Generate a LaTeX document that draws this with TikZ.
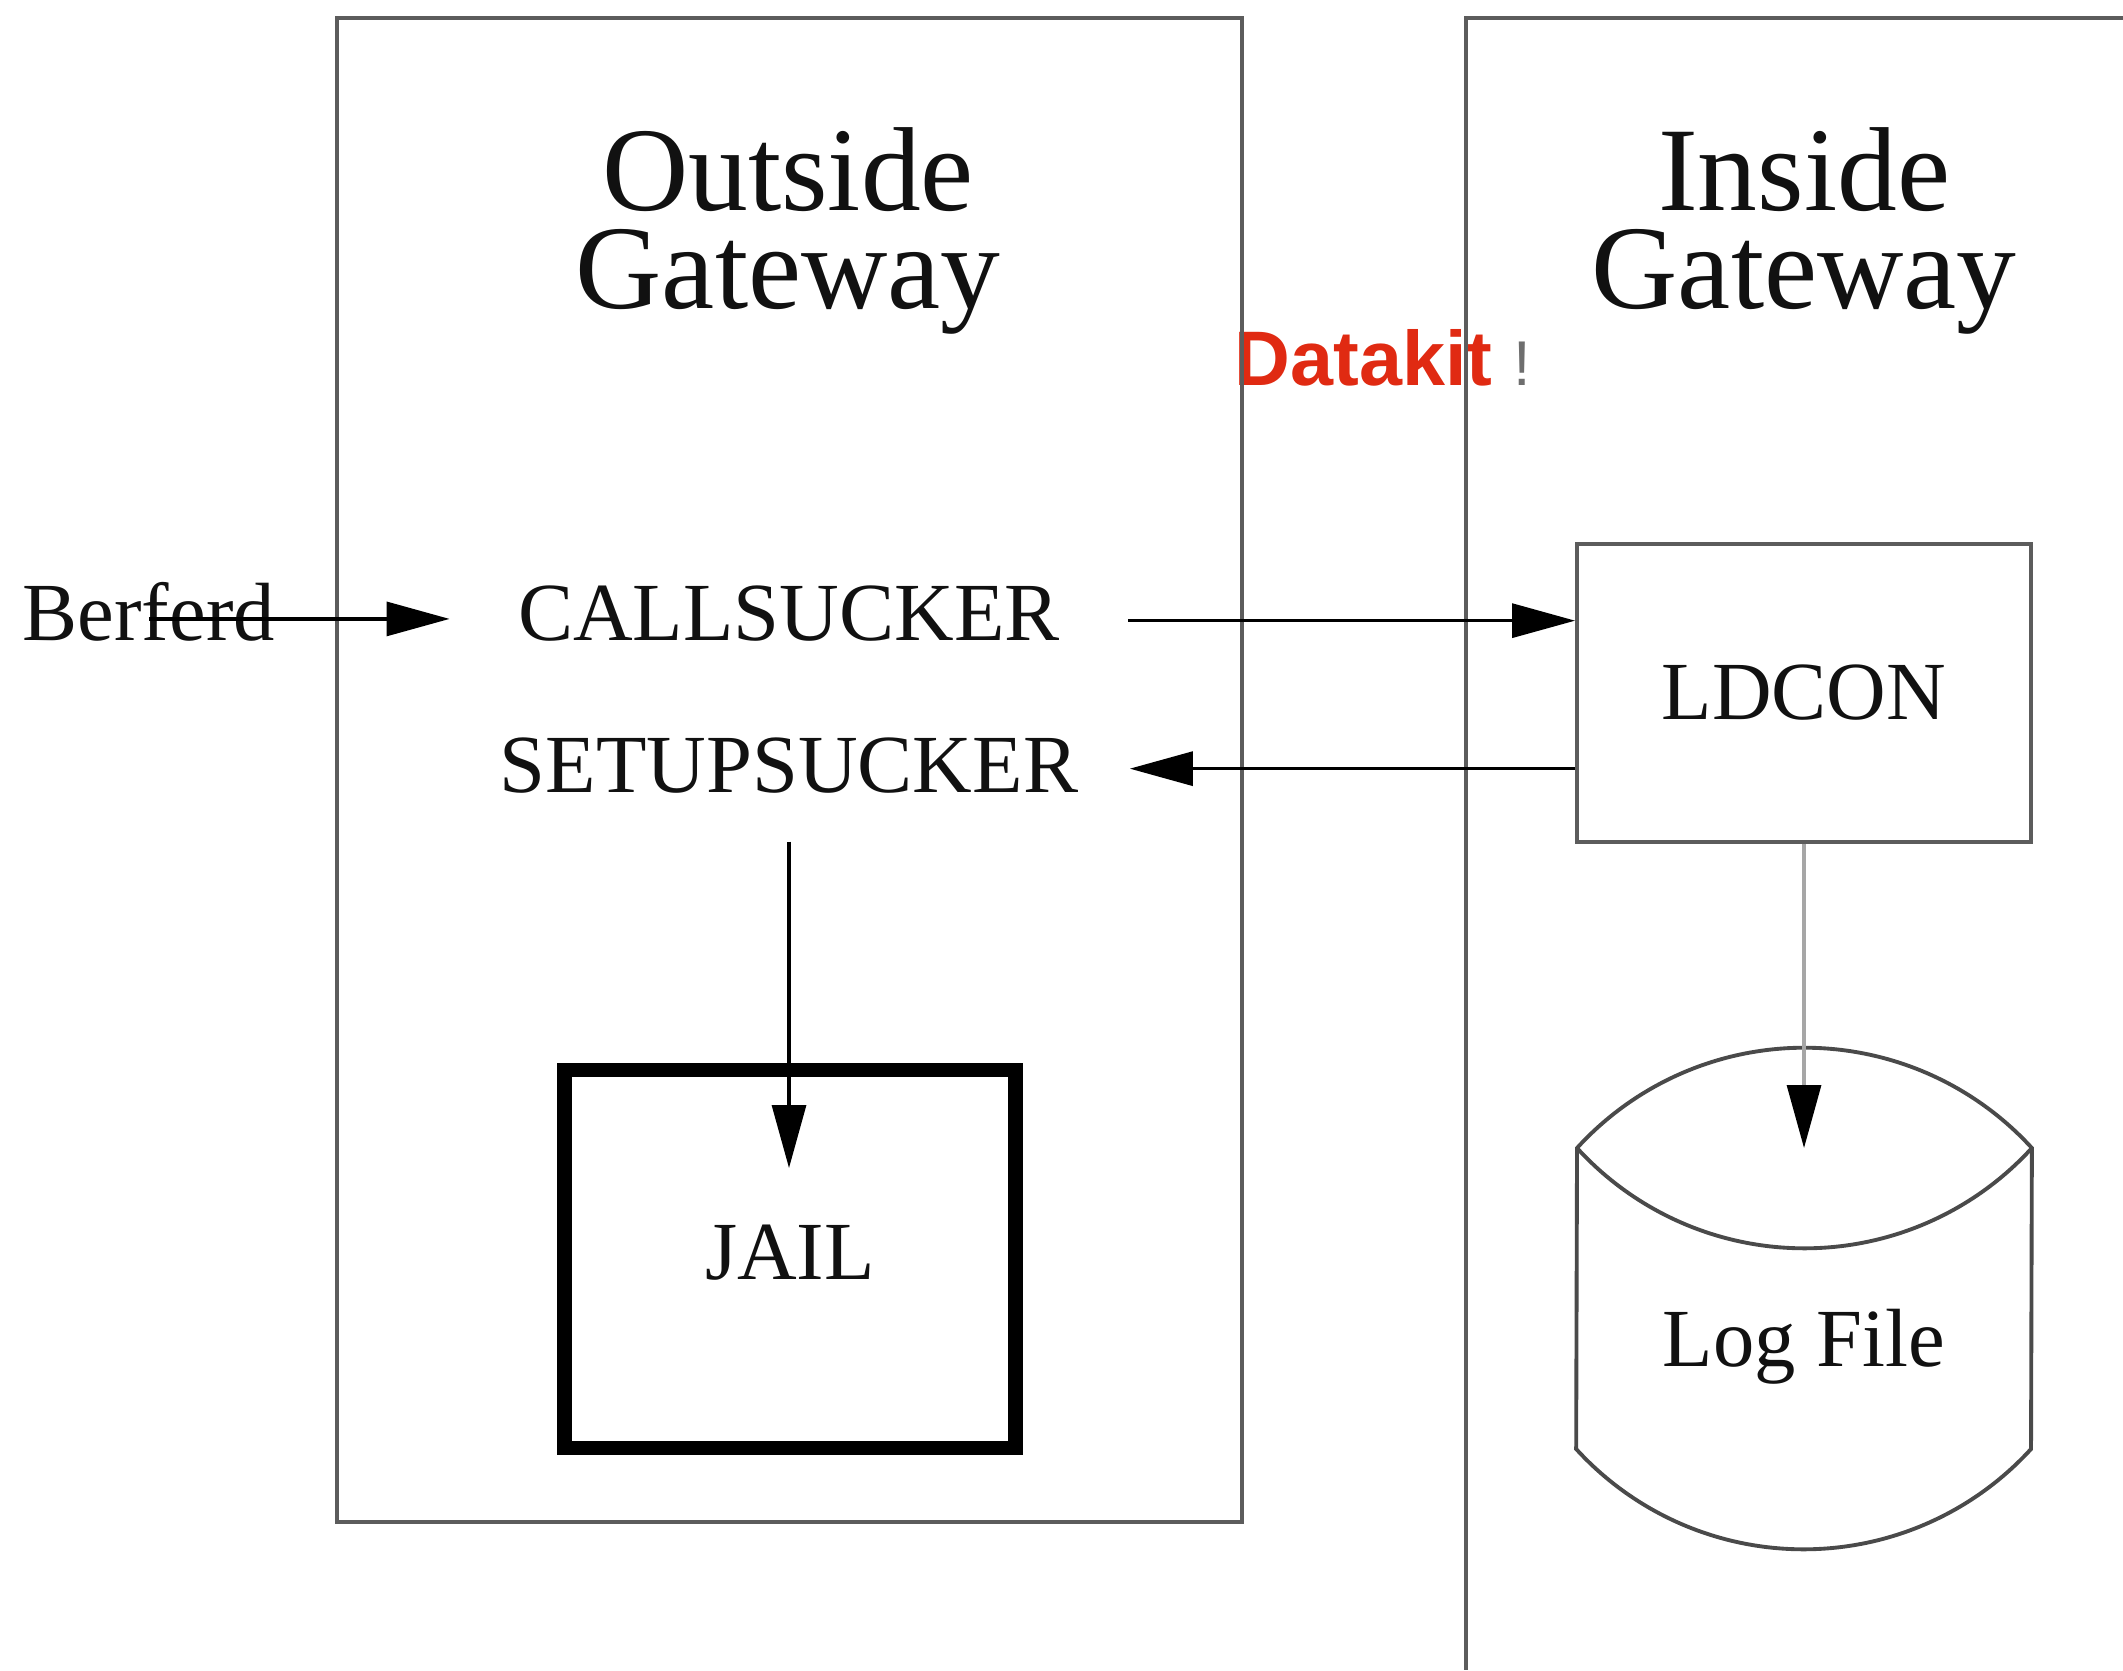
\documentclass[tikz,border=0pt]{standalone}
\usepackage{fontspec}
\setmainfont{Liberation Serif}
\newfontfamily\dkfont{Liberation Sans}
\usepackage{tikz}
\usetikzlibrary{positioning, arrows.meta, calc}
\definecolor{gwFrame}{HTML}{5C5C5C}
\definecolor{gwInk}{HTML}{111111}
\definecolor{dkRed}{HTML}{E02A12}
\definecolor{dkGray}{HTML}{6E6E6E}
\definecolor{logGray}{HTML}{A6A6A6}

\begin{document}
\begin{tikzpicture}[
  every node/.style={font=\fontsize{23.5}{26}\selectfont, text=gwInk},
  title/.style={font=\fontsize{34}{28}\selectfont, align=center},
  gwframe/.style={draw=gwFrame, line width=1.3pt},
  drum/.style={draw=gwFrame!80!black, line width=1.1pt},
  procbox/.style={
    draw=gwFrame, line width=1.1pt,
    minimum width=4.54cm, minimum height=2.98cm
  },
  jailbox/.style={
    draw=black, line width=4pt, text depth=0.14cm,
    minimum width=4.51cm, minimum height=3.78cm
  },
  flow/.style={draw=black, line width=0.9pt, -{Triangle[length=0.63cm, width=0.34cm]}},
]
\useasboundingbox (0,0) rectangle (21.23,16.70);

% Datakit link (the frames run over it)
\node[anchor=base west, inner sep=0, text=dkRed,
  font=\dkfont\bfseries\fontsize{22}{24}\selectfont] (dk-label) at (12.34,12.85)
  {Datakit\hspace{6pt}{\mdseries\fontsize{18}{20}\selectfont\color{dkGray}!}};

% === OUTSIDE GATEWAY ===
\draw[gwframe] (3.37,1.48) rectangle (12.42,16.52);
\node[title] (og-title) at (7.88,14.39) {Outside\\Gateway};

\node[anchor=base, text depth=0.16cm, inner xsep=0.68cm, inner ysep=0.1cm] (og-call) at (7.89,10.30) {CALLSUCKER};
\node[anchor=base, text depth=0.08cm, inner xsep=0.51cm, inner ysep=0.41cm] (og-setup) at (7.89,8.78) {SETUPSUCKER};
\node[jailbox] (og-jail) at (7.90,4.11) {JAIL};
\coordinate (jail-in) at (7.89,5.02);

% === INSIDE GATEWAY ===
\draw[gwframe] (21.23,16.52) -- (14.66,16.52) -- (14.66,0);
\node[title] (ig-title) at (18.04,14.39) {Inside\\Gateway};
\node[procbox] (ig-ldcon) at (18.04,9.77) {LDCON};

% log file drum
\draw[drum] (15.77,5.22) arc[start angle=137.6, end angle=42.4, radius=3.08]
  -- (20.31,2.21) arc[start angle=317.6, end angle=222.4, radius=3.08] -- cycle;
\draw[drum] (15.77,5.22) arc[start angle=222.4, end angle=317.6, radius=3.08];
\node (ig-log) at (18.04,3.23) {Log File};
\coordinate (log-in) at (18.04,5.22);

% === FLOWS ===
\node[anchor=base west, inner sep=0, text depth=0.16cm] (berferd) at (0.22,10.30) {Berferd};

\draw[flow] (berferd.center) -- (berferd.center -| og-call.west);
\draw[flow] (og-call.east) -- (og-call.east -| ig-ldcon.west);
\draw[flow] (og-setup.east -| ig-ldcon.west) -- (og-setup.east);
\draw[flow] (og-setup.south) -- (jail-in);
\draw[flow, draw=logGray, -{Triangle[length=0.63cm, width=0.34cm, color=black]}]
  (ig-ldcon.south) -- (log-in);

\end{tikzpicture}
\end{document}
